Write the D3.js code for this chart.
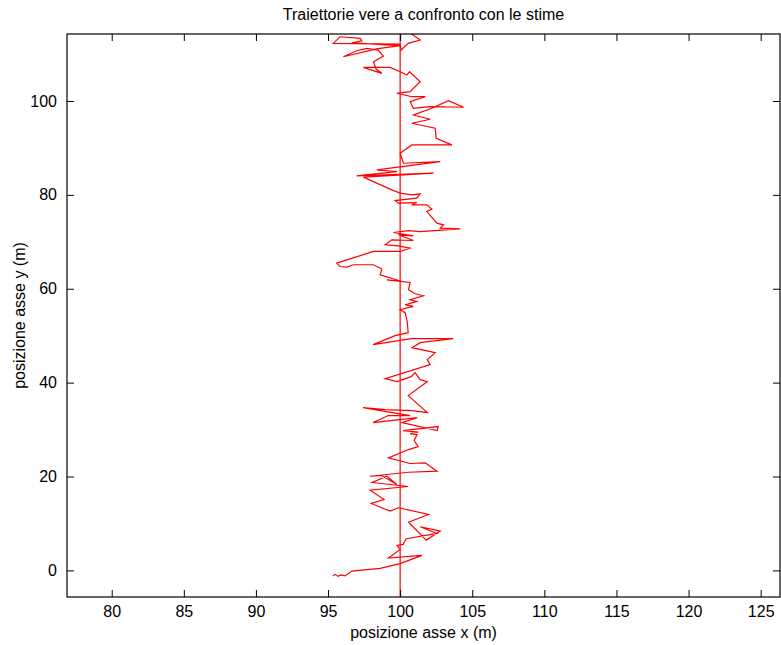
<!DOCTYPE html>
<html>
<head>
<meta charset="utf-8">
<script src="https://cdn.jsdelivr.net/npm/d3@7"></script>
<style>
  body { margin: 0; background: #fff; }
  svg { display: block; }
</style>
</head>
<body>
<div id="chart"></div>
<script>
// tick values
const xTicks = [80, 85, 90, 95, 100, 105, 110, 115, 120, 125];
const yTicks = [0, 20, 40, 60, 80, 100];

// true trajectory (straight line at x = 100)
const trueX = [100, 100];
const trueY = [-5.67, 114.27];

// estimated trajectory (bottom to top)
const estX = [
  95.33, 95.49, 95.69, 95.90, 96.18, 96.65, 98.61, 100.00, 101.51, 99.19,
  100.00, 99.79, 100.21, 100.42, 102.55, 101.39, 102.78, 101.81, 100.58, 101.97,
  99.88, 99.31, 97.99, 98.89, 97.92, 100.56, 98.06, 99.08, 99.77, 98.73,
  97.92, 100.58, 102.55, 101.74, 100.69, 99.19, 100.58, 101.25, 100.97, 101.18,
  100.69, 101.25, 100.21, 102.64, 102.57, 100.14, 101.18, 98.13, 99.17, 100.69,
  97.43, 98.96, 100.83, 101.88, 100.56, 101.88, 101.39, 101.04, 100.76, 99.79,
  98.96, 102.08, 101.88, 102.43, 100.83, 101.39, 103.68, 100.76, 98.13, 99.65,
  100.56, 100.49, 100.35, 100.00, 100.92, 100.35, 101.16, 100.69, 101.62, 101.04,
  100.58, 100.69, 99.08, 100.12, 98.61, 98.73, 98.15, 96.76, 96.30, 95.83,
  95.60, 98.15, 100.00, 100.69, 99.88, 98.96, 99.42, 100.92, 99.88, 100.92,
  99.53, 100.58, 101.39, 104.17, 102.78, 103.01, 102.55, 101.85, 102.20, 101.85,
  100.81, 101.16, 99.88, 99.65, 101.16, 101.39, 100.81, 100.00, 99.42, 97.45,
  102.31, 96.99, 99.77, 98.38, 102.78, 100.23, 100.00, 100.81, 103.59, 102.50,
  102.43, 100.81, 102.08, 100.92, 102.20, 103.35, 104.40, 102.08, 100.92, 100.69,
  101.74, 100.81, 99.77, 100.69, 101.39, 100.65, 100.47, 100.00, 99.31, 97.45,
  98.73, 98.33, 98.15, 98.84, 98.47, 97.69, 96.99, 96.06, 98.47, 100.00,
  96.65, 97.34, 97.22, 95.83, 95.37, 100.00, 100.07, 100.56, 101.39, 100.90,
  100.69
];
const estY = [
  -1.21, -0.85, -1.28, -0.96, -1.17, -0.15, 0.43, 1.43, 3.19, 2.62,
  4.47, 5.32, 5.53, 6.74, 7.87, 9.30, 8.36, 6.45, 10.28, 11.91,
  13.34, 12.62, 14.26, 15.11, 17.09, 17.87, 18.72, 20.06, 18.30, 20.21,
  20.06, 20.91, 21.13, 22.91, 22.77, 23.98, 25.74, 26.38, 27.66, 28.94,
  29.15, 29.47, 29.79, 30.64, 29.79, 31.49, 32.55, 31.49, 32.98, 32.98,
  34.68, 34.26, 34.04, 33.62, 37.23, 40.21, 40.64, 42.13, 41.28, 40.21,
  40.85, 43.83, 44.89, 46.38, 47.45, 48.51, 49.36, 49.36, 48.09, 50.00,
  50.64, 52.98, 54.89, 55.53, 56.23, 56.60, 57.30, 57.66, 58.51, 58.94,
  59.79, 61.34, 61.91, 61.55, 62.98, 64.19, 65.11, 65.11, 64.62, 64.74,
  65.47, 67.94, 67.94, 68.66, 69.15, 69.36, 70.43, 70.28, 71.49, 71.28,
  71.98, 72.40, 72.19, 72.77, 72.91, 73.62, 73.98, 76.45, 76.96, 77.87,
  77.87, 78.36, 78.23, 78.79, 79.30, 80.21, 80.00, 80.36, 81.06, 83.77,
  84.62, 84.04, 84.96, 85.32, 87.09, 86.74, 88.87, 90.64, 90.64, 92.06,
  94.19, 95.26, 96.11, 97.02, 98.45, 100.06, 98.66, 98.79, 98.45, 99.85,
  100.91, 100.91, 101.64, 101.98, 104.11, 106.23, 105.53, 106.23, 107.17, 107.17,
  105.89, 106.81, 108.36, 109.57, 110.85, 111.21, 110.70, 109.43, 111.17, 111.81,
  112.40, 112.83, 113.34, 113.68, 112.28, 112.13, 110.85, 112.28, 112.98, 114.04,
  114.47
];

const width = 781, height = 645;
const margin = { top: 34, right: 1, bottom: 48, left: 67 };
const plotW = width - margin.left - margin.right;
const plotH = height - margin.top - margin.bottom;
const font = "'Liberation Sans', Arial, Helvetica, sans-serif";

const svg = d3.select('#chart').append('svg')
  .attr('width', width)
  .attr('height', height);

const x = d3.scaleLinear().domain([76.9, 126.34]).range([0, plotW]);
const y = d3.scaleLinear().domain([-5.67, 114.27]).range([plotH, 0]);

const g = svg.append('g')
  .attr('transform', `translate(${margin.left},${margin.top})`);

g.append('clipPath').attr('id', 'clip')
  .append('rect').attr('width', plotW).attr('height', plotH);

// lines
const line = d3.line().x(d => x(d[0])).y(d => y(d[1]));
const plot = g.append('g').attr('clip-path', 'url(#clip)');

plot.append('path')
  .datum(d3.zip(trueX, trueY))
  .attr('fill', 'none')
  .attr('stroke', '#ff0000')
  .attr('stroke-width', 1.2)
  .attr('d', line);

plot.append('path')
  .datum(d3.zip(estX, estY))
  .attr('fill', 'none')
  .attr('stroke', '#ff0000')
  .attr('stroke-width', 1.2)
  .attr('stroke-linejoin', 'miter')
  .attr('d', line);

// axes with inward ticks on all four sides (matlab box)
const tickLen = 7;
function styleAxis(sel) {
  sel.select('.domain').remove();
  sel.selectAll('line').attr('stroke', '#000').attr('stroke-width', 1);
  sel.selectAll('text')
    .attr('font-family', font)
    .attr('font-size', '16px')
    .attr('fill', '#000');
}

g.append('g')
  .attr('transform', `translate(0,${plotH})`)
  .call(d3.axisBottom(x).tickValues(xTicks).tickSize(-tickLen).tickPadding(9))
  .call(styleAxis);

g.append('g')
  .call(d3.axisTop(x).tickValues(xTicks).tickSize(-tickLen).tickFormat(''))
  .call(styleAxis);

g.append('g')
  .call(d3.axisLeft(y).tickValues(yTicks).tickSize(-tickLen).tickPadding(10))
  .call(styleAxis);

g.append('g')
  .attr('transform', `translate(${plotW},0)`)
  .call(d3.axisRight(y).tickValues(yTicks).tickSize(-tickLen).tickFormat(''))
  .call(styleAxis);

// box
g.append('rect')
  .attr('width', plotW)
  .attr('height', plotH)
  .attr('fill', 'none')
  .attr('stroke', '#000')
  .attr('stroke-width', 1.2);

// title and axis labels
svg.append('text')
  .attr('x', margin.left + plotW / 2)
  .attr('y', 20)
  .attr('text-anchor', 'middle')
  .attr('font-family', font)
  .attr('font-size', '16px')
  .text('Traiettorie vere a confronto con le stime');

svg.append('text')
  .attr('x', margin.left + plotW / 2)
  .attr('y', 638)
  .attr('text-anchor', 'middle')
  .attr('font-family', font)
  .attr('font-size', '16px')
  .text('posizione asse x (m)');

svg.append('text')
  .attr('transform', `translate(25,${margin.top + plotH / 2}) rotate(-90)`)
  .attr('text-anchor', 'middle')
  .attr('font-family', font)
  .attr('font-size', '16px')
  .text('posizione asse y (m)');
</script>
</body>
</html>
